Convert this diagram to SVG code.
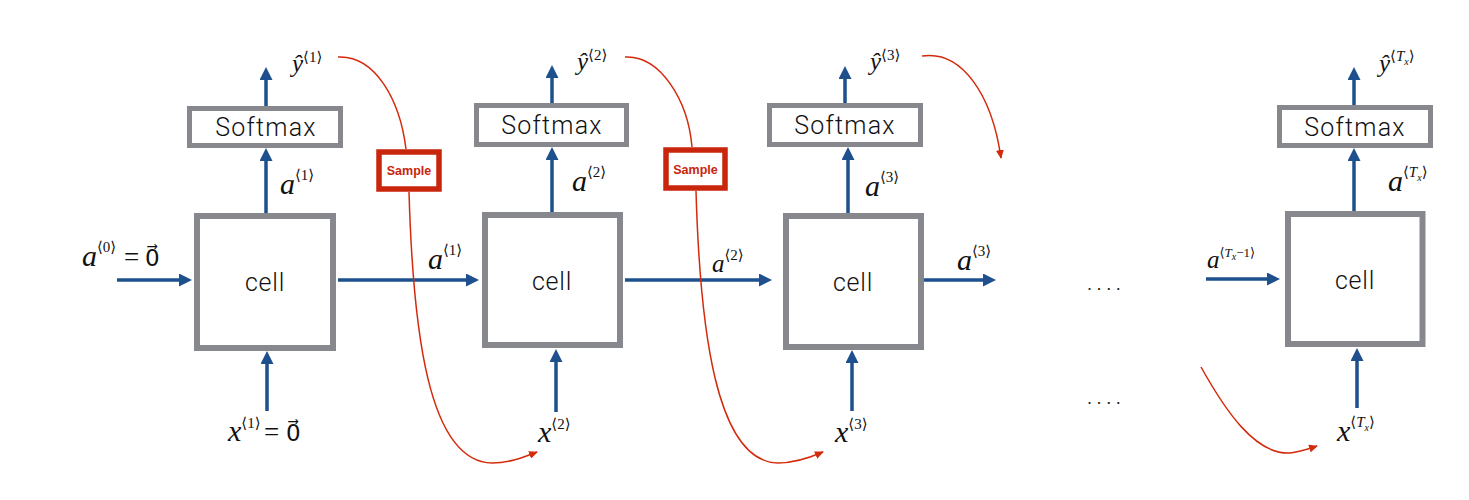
<svg xmlns="http://www.w3.org/2000/svg" width="1469" height="500" viewBox="0 0 1469 500">
<style>
.cell{fill:#fff;stroke:#86888d;stroke-width:6}
.soft{fill:#fff;stroke:#86888d;stroke-width:5}
.samp{fill:#fff;stroke:#c8250c;stroke-width:5.5}
.lbl{font-family:Roboto,"Liberation Sans",Arial,sans-serif;font-weight:300;fill:#111;text-anchor:middle}
.celltxt{font-size:25px;letter-spacing:0.8px}
.softtxt{font-size:25px;letter-spacing:1.2px}
.samptxt{font-family:"Liberation Sans",Arial,sans-serif;font-weight:bold;font-size:12.5px;fill:#c8250c;text-anchor:middle}
.blue{stroke:#1d508d;stroke-width:3.5;fill:none;marker-end:url(#ab)}
.red{stroke:#d42a0c;stroke-width:1.5;fill:none}
.redarr{marker-end:url(#ar)}
.m{font-family:"Liberation Serif","DejaVu Serif",serif;fill:#111}
.v{font-style:italic;font-size:30px}
.vs{font-style:italic;font-size:25px}
.sup{font-size:15px}
.sub{font-size:10px;font-style:italic}
.num{font-size:27px}
.vz{font-family:"DejaVu Sans",sans-serif;font-size:23px}
.dots{font-family:"Liberation Sans",Arial,sans-serif;font-size:18px;letter-spacing:4.6px;fill:#222}
</style>
<defs>
<marker id="ab" viewBox="0 0 13 13" refX="3" refY="6.5" markerWidth="13" markerHeight="13" markerUnits="userSpaceOnUse" orient="auto">
<path d="M0,0 L13,6.5 L0,13 z" fill="#1d508d"/>
</marker>
<marker id="ar" viewBox="0 0 9 8" refX="8" refY="4" markerWidth="9" markerHeight="8" markerUnits="userSpaceOnUse" orient="auto">
<path d="M0,0 L9,4 L0,8 z" fill="#d42a0c"/>
</marker>
</defs>

<g id="connectors">
<line class="blue" x1="117" y1="280" x2="182" y2="280"/>
<line class="blue" x1="338" y1="280" x2="469" y2="280"/>
<line class="blue" x1="625" y1="280" x2="762" y2="280"/>
<line class="blue" x1="924" y1="280" x2="986" y2="280"/>
<line class="blue" x1="1206" y1="279" x2="1270" y2="279"/>
<line class="blue" x1="266" y1="213" x2="266" y2="158"/>
<line class="blue" x1="266" y1="106" x2="266" y2="77"/>
<line class="blue" x1="267" y1="411" x2="267" y2="361"/>
<line class="blue" x1="552" y1="212" x2="552" y2="157"/>
<line class="blue" x1="552" y1="103" x2="552" y2="75"/>
<line class="blue" x1="556" y1="412" x2="556" y2="359"/>
<line class="blue" x1="848" y1="213" x2="848" y2="157"/>
<line class="blue" x1="845" y1="103" x2="845" y2="76"/>
<line class="blue" x1="852" y1="411" x2="852" y2="360"/>
<line class="blue" x1="1354" y1="211" x2="1354" y2="158"/>
<line class="blue" x1="1354" y1="105" x2="1354" y2="77"/>
<line class="blue" x1="1357" y1="408" x2="1357" y2="358"/>
<path class="red" d="M338,57 C375,55 400,100 406,149"/>
<path class="red redarr" d="M409,192 C413,330 428,462 492,463 C508,463 522,458 537,452"/>
<path class="red" d="M625,57 C660,55 688,100 692,147"/>
<path class="red redarr" d="M696,191 C700,330 716,462 778,463 C794,463 809,458 823,452"/>
<path class="red redarr" d="M922,56 C962,50 992,95 1001,158"/>
<path class="red redarr" d="M1201,367 C1225,410 1255,455 1290,453 C1300,452 1308,449 1317,446"/>
</g>

<g id="cell1">
<rect class="cell" x="197" y="216" width="136" height="132"/>
<text class="lbl celltxt" x="265" y="291">cell</text>
</g>
<g id="softmax1">
<rect class="soft" x="189.5" y="108.5" width="151" height="37"/>
<text class="lbl softtxt" x="266" y="136">Softmax</text>
</g>
<g id="sample1">
<rect class="samp" x="379" y="152" width="60" height="37"/>
<text class="samptxt" x="409" y="175">Sample</text>
</g>

<g id="cell2">
<rect class="cell" x="485" y="215" width="135" height="130"/>
<text class="lbl celltxt" x="552" y="290">cell</text>
</g>
<g id="softmax2">
<rect class="soft" x="476.5" y="105.5" width="150" height="39"/>
<text class="lbl softtxt" x="552" y="134">Softmax</text>
</g>
<g id="sample2">
<rect class="samp" x="666" y="150" width="59" height="38"/>
<text class="samptxt" x="695.5" y="174">Sample</text>
</g>

<g id="cell3">
<rect class="cell" x="786" y="216" width="135" height="131"/>
<text class="lbl celltxt" x="853" y="291">cell</text>
</g>
<g id="softmax3">
<rect class="soft" x="769.5" y="105.5" width="151" height="39"/>
<text class="lbl softtxt" x="845" y="134">Softmax</text>
</g>

<g id="cell4">
<rect class="cell" x="1288" y="214" width="134.5" height="130"/>
<text class="lbl celltxt" x="1355" y="289">cell</text>
</g>
<g id="softmax4">
<rect class="soft" x="1279.5" y="107.5" width="151" height="38"/>
<text class="lbl softtxt" x="1355" y="136">Softmax</text>
</g>

<g id="labels">
<text class="m" x="82" y="266"><tspan class="v">a</tspan><tspan class="sup" dy="-14">⟨0⟩</tspan><tspan class="num" x="124" y="266">=</tspan><tspan class="vz" x="145" y="266">0⃗</tspan></text>
<text class="m" x="228" y="441"><tspan class="v">x</tspan><tspan class="sup" dy="-13">⟨1⟩</tspan><tspan class="num" x="264" y="441">=</tspan><tspan class="vz" x="286" y="441">0⃗</tspan></text>
<text class="m" x="538" y="442"><tspan class="v">x</tspan><tspan class="sup" dy="-13">⟨2⟩</tspan></text>
<text class="m" x="835" y="442"><tspan class="v">x</tspan><tspan class="sup" dy="-13">⟨3⟩</tspan></text>
<text class="m" x="1337" y="441"><tspan class="v">x</tspan><tspan class="sup" dy="-14">⟨<tspan font-style="italic">T</tspan></tspan><tspan class="sub" dy="4">x</tspan><tspan class="sup" dy="-4">⟩</tspan></text>
<text class="m" x="280" y="194"><tspan class="v">a</tspan><tspan class="sup" dy="-14">⟨1⟩</tspan></text>
<text class="m" x="572" y="191"><tspan class="v">a</tspan><tspan class="sup" dy="-14">⟨2⟩</tspan></text>
<text class="m" x="865" y="196"><tspan class="v">a</tspan><tspan class="sup" dy="-14">⟨3⟩</tspan></text>
<text class="m" x="1388" y="191"><tspan class="v">a</tspan><tspan class="sup" dy="-14">⟨<tspan font-style="italic">T</tspan></tspan><tspan class="sub" dy="4">x</tspan><tspan class="sup" dy="-4">⟩</tspan></text>
<text class="m" x="428" y="269"><tspan class="v">a</tspan><tspan class="sup" dy="-14">⟨1⟩</tspan></text>
<text class="m" x="712" y="272"><tspan class="vs">a</tspan><tspan class="sup" dy="-12">⟨2⟩</tspan></text>
<text class="m" x="957" y="270"><tspan class="v">a</tspan><tspan class="sup" dy="-14">⟨3⟩</tspan></text>
<text class="m" x="1207" y="268"><tspan class="vs">a</tspan><tspan font-size="13px" dy="-11">⟨<tspan font-style="italic">T</tspan></tspan><tspan class="sub" font-size="9px" dy="3">x</tspan><tspan font-size="13px" dy="-3">−1⟩</tspan></text>
<text class="m" x="292" y="72"><tspan class="vs">ŷ</tspan><tspan class="sup" dy="-10">⟨1⟩</tspan></text>
<text class="m" x="577" y="70"><tspan class="vs">ŷ</tspan><tspan class="sup" dy="-10">⟨2⟩</tspan></text>
<text class="m" x="870" y="70"><tspan class="vs">ŷ</tspan><tspan class="sup" dy="-10">⟨3⟩</tspan></text>
<text class="m" x="1379" y="72"><tspan class="vs">ŷ</tspan><tspan class="sup" dy="-11">⟨<tspan font-style="italic">T</tspan></tspan><tspan class="sub" dy="4">x</tspan><tspan class="sup" dy="-4">⟩</tspan></text>
<text class="dots" x="1087" y="290">....</text>
<text class="dots" x="1087" y="404">....</text>
</g>
</svg>
